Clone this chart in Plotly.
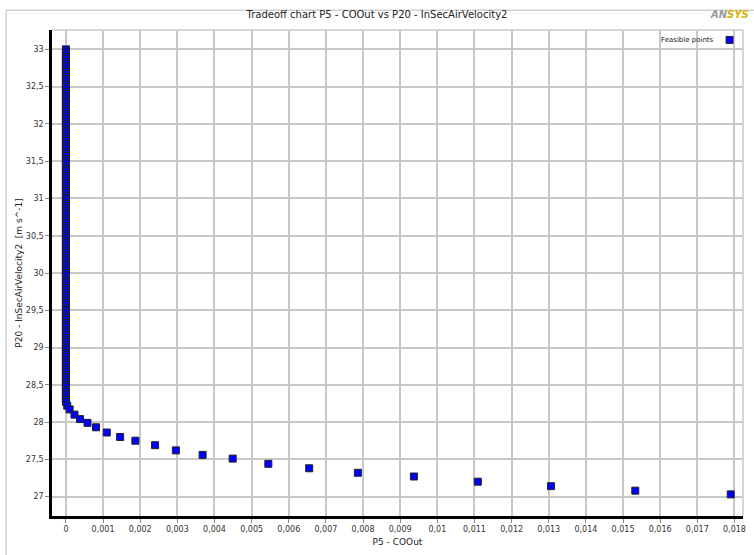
import plotly.graph_objects as go

# Vertical cluster of feasible points (P5 - COOut ~ 0)
col_y = [
    33.00, 32.97, 32.93, 32.90, 32.87, 32.83, 32.80, 32.77, 32.73, 32.70,
    32.67, 32.63, 32.60, 32.57, 32.53, 32.50, 32.47, 32.43, 32.40, 32.37,
    32.33, 32.30, 32.27, 32.23, 32.20, 32.17, 32.13, 32.10, 32.07, 32.03,
    32.00, 31.97, 31.93, 31.90, 31.87, 31.83, 31.80, 31.77, 31.73, 31.70,
    31.67, 31.63, 31.60, 31.57, 31.53, 31.50, 31.47, 31.43, 31.40, 31.37,
    31.33, 31.30, 31.27, 31.23, 31.20, 31.17, 31.13, 31.10, 31.07, 31.03,
    31.00, 30.97, 30.93, 30.90, 30.87, 30.83, 30.80, 30.77, 30.73, 30.70,
    30.67, 30.63, 30.60, 30.57, 30.53, 30.50, 30.47, 30.43, 30.40, 30.37,
    30.33, 30.30, 30.27, 30.23, 30.20, 30.17, 30.13, 30.10, 30.07, 30.03,
    30.00, 29.97, 29.93, 29.90, 29.87, 29.83, 29.80, 29.77, 29.73, 29.70,
    29.67, 29.63, 29.60, 29.57, 29.53, 29.50, 29.47, 29.43, 29.40, 29.37,
    29.33, 29.30, 29.27, 29.23, 29.20, 29.17, 29.13, 29.10, 29.07, 29.03,
    29.00, 28.97, 28.93, 28.90, 28.87, 28.83, 28.80, 28.77, 28.73, 28.70,
    28.67, 28.63, 28.60, 28.57, 28.53, 28.50, 28.47, 28.43, 28.40, 28.37,
    28.33, 28.30, 28.27,
]
col_x = [0.0] * len(col_y)

# Tail of the trade-off front
tail_x = [0.000035, 0.00010, 0.00023, 0.00038, 0.00058, 0.00081, 0.00110,
          0.00146, 0.00187, 0.00240, 0.00296, 0.00368, 0.00449, 0.00545,
          0.00655, 0.00786, 0.00937, 0.01109, 0.01306, 0.01533, 0.01790]
tail_y = [28.22, 28.17, 28.10, 28.04, 27.99, 27.93, 27.86,
          27.80, 27.75, 27.69, 27.62, 27.56, 27.51, 27.44,
          27.38, 27.32, 27.27, 27.20, 27.14, 27.08, 27.03]

x_all = col_x + tail_x
y_all = col_y + tail_y

x_ticks = [0.000, 0.001, 0.002, 0.003, 0.004, 0.005, 0.006, 0.007, 0.008, 0.009,
           0.010, 0.011, 0.012, 0.013, 0.014, 0.015, 0.016, 0.017, 0.018]
x_labels = ["0", "0,001", "0,002", "0,003", "0,004", "0,005", "0,006", "0,007", "0,008",
            "0,009", "0,01", "0,011", "0,012", "0,013", "0,014", "0,015", "0,016",
            "0,017", "0,018"]
y_ticks = [27, 27.5, 28, 28.5, 29, 29.5, 30, 30.5, 31, 31.5, 32, 32.5, 33]
y_labels = ["27", "27,5", "28", "28,5", "29", "29,5", "30", "30,5", "31", "31,5",
            "32", "32,5", "33"]

FONT = "DejaVu Sans, sans-serif"
BLUE = "#0000ff"

fig = go.Figure()
fig.add_trace(go.Scatter(
    x=x_all, y=y_all, mode="markers", name="Feasible points",
    marker=dict(symbol="square", size=7, color=BLUE,
                line=dict(color="#222222", width=1)),
    showlegend=False,
))

fig.update_layout(
    width=754, height=555,
    margin=dict(l=52, r=8, t=30, b=35),
    paper_bgcolor="white", plot_bgcolor="white",
    font=dict(family=FONT, size=9, color="#333333"),
    title=dict(text="Tradeoff chart P5 - COOut vs P20 - InSecAirVelocity2",
               x=0.5, xanchor="center", y=1 - 14 / 555, yanchor="middle",
               font=dict(family=FONT, size=10, color="#222222")),
    xaxis=dict(
        range=[-0.000375, 0.01823], tickmode="array",
        tickvals=x_ticks, ticktext=x_labels,
        showgrid=True, gridcolor="#c8c8c8", gridwidth=1.5,
        zeroline=False, showline=True, linecolor="black", linewidth=2.5,
        ticks="outside", ticklen=4, tickcolor="#888888",
        tickfont=dict(size=8, color="#333333"),
        title=dict(text="P5 - COOut", font=dict(size=9, color="#222222"), standoff=6),
    ),
    yaxis=dict(
        range=[26.74, 33.26], tickmode="array",
        tickvals=y_ticks, ticktext=y_labels,
        showgrid=True, gridcolor="#c8c8c8", gridwidth=1.5,
        zeroline=False, showline=True, linecolor="black", linewidth=2.5,
        ticks="outside", ticklen=4, tickcolor="#888888",
        tickfont=dict(size=8, color="#333333"),
        title=dict(text="P20 - InSecAirVelocity2  [m s^-1]",
                   font=dict(size=9, color="#222222"), standoff=2),
    ),
)

PW = 754 - 52 - 8
PH = 555 - 30 - 35

# outer frame and plot border lines
fig.add_shape(type="line", xref="paper", yref="paper",
              x0=-46 / PW, x1=1.02, y0=1 + 20 / PH, y1=1 + 20 / PH,
              line=dict(color="#d0d0d0", width=1.5))
fig.add_shape(type="line", xref="paper", yref="paper",
              x0=-46 / PW, x1=-46 / PW, y0=-0.08, y1=1 + 20 / PH,
              line=dict(color="#d0d0d0", width=1.5))
fig.add_shape(type="line", xref="paper", yref="paper",
              x0=0, x1=1, y0=1, y1=1, line=dict(color="#c8c8c8", width=1.5))
fig.add_shape(type="line", xref="paper", yref="paper",
              x0=1, x1=1, y0=0, y1=1, line=dict(color="#c8c8c8", width=1.5))

# legend (text with marker to the right)
fig.add_annotation(xref="paper", yref="paper", x=(719 - 52) / PW, y=1 - 10 / PH,
                   xanchor="right", yanchor="middle", showarrow=False,
                   text="Feasible points", font=dict(size=7, color="#222222"))
fig.add_shape(type="rect", xref="paper", yref="paper",
              x0=(729 - 52) / PW, x1=(736 - 52) / PW,
              y0=1 - 13.5 / PH, y1=1 - 6.5 / PH,
              fillcolor=BLUE, line=dict(color="#222222", width=1))

# ANSYS logo text
fig.add_annotation(xref="paper", yref="paper", x=(711 - 52) / PW, y=1 + 16 / PH,
                   xanchor="left", yanchor="middle", showarrow=False,
                   text="<b><i><span style='color:#9a9a9a'>AN</span><span style='color:#d4b000'>SYS</span></i></b>",
                   font=dict(size=10, family="DejaVu Sans, sans-serif"))

fig.write_html("out.html")
